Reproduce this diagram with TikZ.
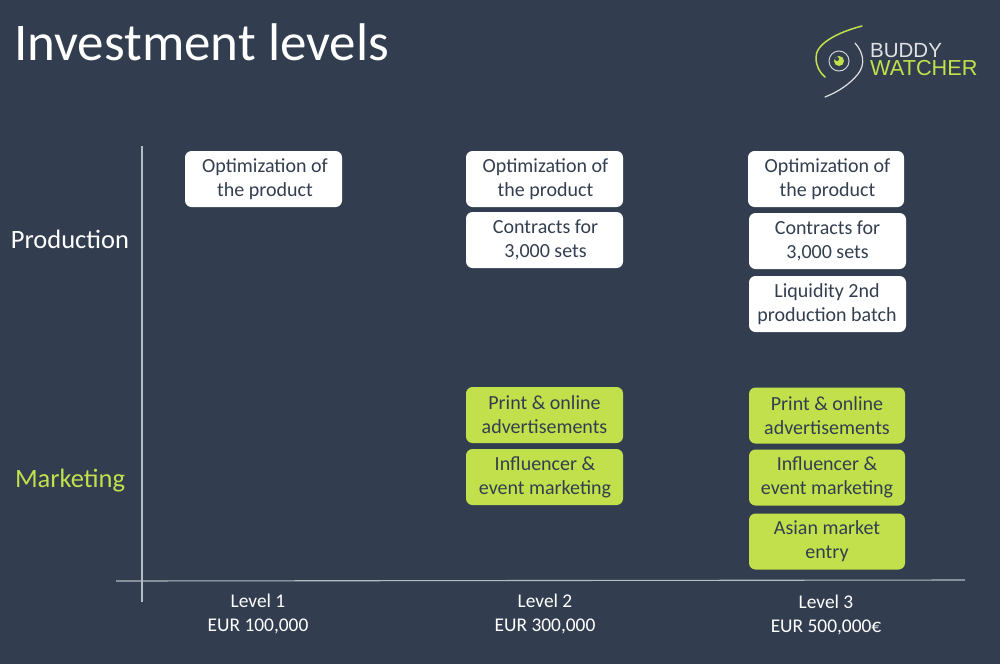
\documentclass[tikz,border=0pt]{standalone}
\usepackage{fontspec}
\setmainfont{Carlito}
\newfontfamily\logofont{Liberation Sans}
\definecolor{bgc}{HTML}{323E4F}
\definecolor{limec}{HTML}{C1E04B}
\definecolor{axisc}{HTML}{B4BCC6}
\definecolor{txtc}{HTML}{333F50}
\newcommand\nudged[3]{\raisebox{#2}{\hspace*{#1}\parbox{140pt}{\centering #3}\hspace*{-#1}}}
\tikzset{
  x=1pt,y=-1pt,
  box/.style={rounded corners=6.5pt,minimum height=56pt,align=center,inner sep=0pt,text=txtc,
    font=\fontsize{20}{24}\selectfont},
  whitebox/.style={box,fill=white},
  greenbox/.style={box,fill=limec},
  axisline/.style={draw=axisc,line width=1.1pt},
  lab/.style={text=white,align=center,inner sep=0pt,font=\fontsize{19.4}{24}\selectfont},
  side/.style={inner sep=0pt,font=\fontsize{26.5}{28}\selectfont},
}
\begin{document}
\begin{tikzpicture}
\useasboundingbox (0,0) rectangle (1000,664);
\fill[bgc] (0,0) rectangle (1000,664);
\node[anchor=base west,inner sep=0pt,text=white,font=\fontsize{53}{56}\selectfont] (title) at (14,60) {Investment levels};
% logo
\draw[limec,line width=1.5pt,line cap=round] (862,26) .. controls (835,33) and (815,45) .. (816,58) .. controls (816,66) and (820,73) .. (825,77);
\draw[white!85!bgc,line width=1.2pt,line cap=round] (855,43) .. controls (863,52) and (866,64) .. (858,74) .. controls (850,84) and (838,92) .. (825,97);
\node[circle,draw=white!75!bgc,line width=1pt,minimum size=20pt,inner sep=0pt] (eye) at (839,61) {};
\node[circle,fill=limec,minimum size=10pt,inner sep=0pt] (pupil) at (839,61) {};
\node[circle,fill=bgc,minimum size=4pt,inner sep=0pt] (glint) at (837,59) {};
\node[anchor=base west,inner sep=0pt,text=white!85!bgc,font=\logofont\fontsize{20.5}{22}\selectfont] (buddy) at (870,57) {BUDDY};
\node[anchor=base west,inner sep=0pt,text=limec,font=\logofont\fontsize{21.7}{22}\selectfont] (watcher) at (870,75) {WATCHER};
% axes
\coordinate (ytop) at (142,146);
\coordinate (ybot) at (142,602);
\coordinate (xl) at (116,581);
\coordinate (xr) at (965,580);
\draw[axisline] (ytop) -- (ybot);
\draw[axisline] (xl) -- (xr);
% side labels
\node[side,text=white] (prod) at (70,239) {Production};
\node[side,text=limec] (mkt) at (70,481) {Marketing};
% level 1
\node[whitebox,minimum width=157pt] (a1) at (263.5,179) {\nudged{1.5pt}{-2.5pt}{Optimization of\\the product}};
% level 2
\node[whitebox,minimum width=157pt] (b1) at (544.5,179) {\nudged{1pt}{-2.5pt}{Optimization of\\the product}};
\node[whitebox,minimum width=157pt] (b2) at (544.5,240) {\nudged{1pt}{-1.5pt}{Contracts for\\3,000 sets}};
\node[greenbox,minimum width=157pt] (b3) at (544.5,415) {\nudged{0pt}{0pt}{Print \& online\\advertisements}};
\node[greenbox,minimum width=157pt] (b4) at (544.5,477) {\nudged{0.5pt}{-0.5pt}{Influencer \&\\event marketing}};
% level 3
\node[whitebox,minimum width=156pt] (c1) at (826,179) {\nudged{1.5pt}{-2.5pt}{Optimization of\\the product}};
\node[whitebox,minimum width=157pt] (c2) at (827.5,241) {\nudged{0pt}{0pt}{Contracts for\\3,000 sets}};
\node[whitebox,minimum width=157pt] (c3) at (827.5,304) {\nudged{-0.5pt}{0pt}{Liquidity 2nd\\production batch}};
\node[greenbox,minimum width=156pt] (c4) at (827,415.5) {\nudged{0pt}{0.8pt}{Print \& online\\advertisements}};
\node[greenbox,minimum width=156pt] (c5) at (827,477.5) {\nudged{0pt}{-1.5pt}{Influencer \&\\event marketing}};
\node[greenbox,minimum width=156pt] (c6) at (827,541.5) {\nudged{0pt}{0pt}{Asian market\\entry}};
% level labels
\node[lab] (l1) at (258,614) {Level 1\\EUR 100,000};
\node[lab] (l2) at (545,614) {Level 2\\EUR 300,000};
\node[lab] (l3) at (826,615) {Level 3\\EUR 500,000€};
\end{tikzpicture}
\end{document}
